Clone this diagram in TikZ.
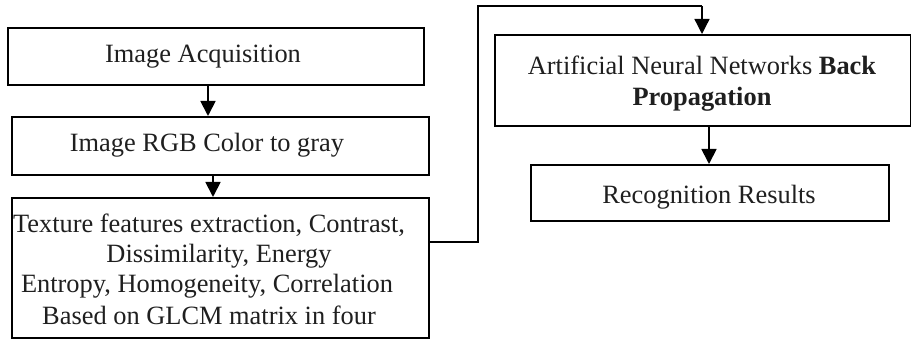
\documentclass[tikz,border=0pt]{standalone}
\usepackage{fontspec}
\setmainfont{Liberation Serif}
\usetikzlibrary{arrows.meta}
\begin{document}
\begin{tikzpicture}[x=1pt,y=-1pt,
  box/.style={draw, line width=1.7pt, rectangle, inner sep=0pt, anchor=north west},
  txt/.style={anchor=base, inner sep=0pt, font=\fontsize{26.4}{30.5}\selectfont, text=black!88},
  arr/.style={line width=1.8pt, -{Triangle[length=15pt,width=15pt]}},
  link/.style={line width=1.3pt}]
\useasboundingbox (0,0) rectangle (911,339);
% boxes
\node[box, minimum width=416pt, minimum height=57pt] (b1) at (7,27) {};
\node[box, minimum width=417pt, minimum height=58pt] (b2) at (11,116) {};
\node[box, minimum width=417pt, minimum height=140pt] (b3) at (11,197) {};
\node[box, minimum width=416pt, minimum height=91pt] (b4) at (494,34) {};
\node[box, minimum width=358pt, minimum height=56pt] (b5) at (530,164) {};
% texts
\node[txt] (t1) at (203,63) {Image Acquisition};
\node[txt] (t2) at (207,152) {Image RGB Color to gray};
\node[txt] (t3a) at (209,233) {Texture features extraction, Contrast,};
\node[txt] (t3b) at (219,263) {Dissimilarity, Energy};
\node[txt] (t3c) at (207,293) {Entropy, Homogeneity, Correlation};
\node[txt] (t3d) at (209,324) {Based on GLCM matrix in four};
\node[txt] (t4a) at (702,75) {Artificial Neural Networks \textbf{Back}};
\node[txt] (t4b) at (702,106) {\textbf{Propagation}};
\node[txt] (t5) at (709,204) {Recognition Results};
% connectors
\coordinate (c1) at (478,242);
\coordinate (c2) at (478,6);
\coordinate (c3) at (702,6);
\draw[arr] (b1.south -| 208,0) -- (b2.north -| 208,0);
\draw[arr] (b2.south -| 213,0) -- (b3.north -| 213,0);
\draw[link] (b3.east |- c1) -- (c1) -- (c2) -- (c3);
\draw[arr, line width=1.3pt] (c3) -- (b4.north -| c3);
\draw[arr] (b4.south -| 709,0) -- (b5.north -| 709,0);
\end{tikzpicture}
\end{document}
